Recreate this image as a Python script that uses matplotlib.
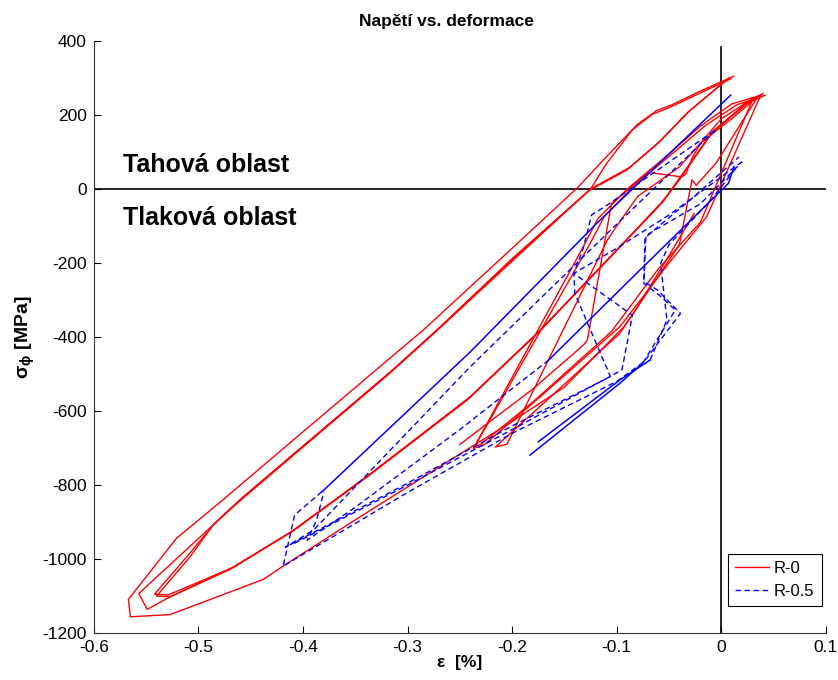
import numpy as np
import matplotlib
matplotlib.use('Agg')
import matplotlib.pyplot as plt

plt.rcParams['font.family'] = ['Liberation Sans', 'DejaVu Sans']
plt.rcParams['axes.unicode_minus'] = False
plt.rcParams['mathtext.fontset'] = 'custom'
plt.rcParams['mathtext.rm'] = 'Liberation Sans'
plt.rcParams['mathtext.it'] = 'Liberation Sans:italic'
plt.rcParams['mathtext.bf'] = 'Liberation Sans:bold'

# ---- R-0 (red) branches: strain [%], stress [MPa] ----
r1_x = [0.012, -0.02, -0.047, -0.062, -0.08, -0.112, -0.137, -0.2, -0.285, -0.316, -0.4, -0.477,
        -0.521, -0.567, -0.565, -0.527, -0.438, -0.419, -0.35, -0.259, -0.2, -0.15, -0.093, -0.084,
        -0.05, -0.026]
r1_y = [305, 265, 228, 212, 175, 81, 5, -160, -381, -455, -656, -841,
        -944, -1109, -1156, -1150, -1055, -1019, -894, -732, -628, -535, -372, -336,
        -180, -66]

r2_x = [0.009, -0.022, -0.05, -0.066, -0.085, -0.11, -0.125, -0.2, -0.272, -0.316, -0.415, -0.46,
        -0.486, -0.557, -0.549, -0.527, -0.466, -0.409, -0.335, -0.24, -0.173, -0.097, -0.055,
        -0.039, -0.007, 0.025, 0.04]
r2_y = [298, 257, 220, 202, 160, 68, 0, -190, -381, -494, -732, -841,
        -908, -1093, -1136, -1102, -1021, -922, -768, -561, -381, -156, -30,
        33, 159, 232, 258]

r3_x = [0.004, -0.033, -0.06, -0.09, -0.127, -0.2, -0.274, -0.318, -0.417, -0.462, -0.486, -0.508,
        -0.540, -0.527, -0.47, -0.412, -0.338, -0.243, -0.176, -0.1, -0.058, -0.04, -0.01, 0.022,
        0.038]
r3_y = [292, 205, 125, 52, -5, -195, -388, -500, -738, -846, -908, -994,
        -1100, -1102, -1028, -928, -776, -570, -390, -165, -40, 25, 150, 228,
        256]

r4_x = [0.007, -0.03, -0.058, -0.088, -0.124, -0.2, -0.27, -0.314, -0.414, -0.459, -0.484, -0.51,
        -0.542, -0.529, -0.468, -0.41, -0.336, -0.241, -0.174, -0.098, -0.056, -0.04, -0.008,
        0.024, 0.042]
r4_y = [300, 212, 131, 58, 2, -188, -376, -488, -728, -836, -902, -990,
        -1095, -1097, -1024, -925, -772, -565, -385, -160, -35, 28, 155, 230,
        254]

r5_x = [0.038, -0.014, -0.05, -0.097, -0.173, -0.227, -0.237, -0.132, -0.118, -0.09, -0.05,
        -0.02, 0.01, 0.036]
r5_y = [255, -75, -200, -372, -561, -692, -701, -156, -80, 0, 95,
        170, 230, 252]

r6_x = [0.035, 0.015, -0.005, -0.024, -0.028, -0.04, -0.097, -0.163, -0.216, -0.205, -0.109,
        -0.1, -0.08, -0.04, -0.02, 0.01, 0.035]
r6_y = [250, 160, 70, 10, 25, -150, -390, -561, -697, -690, -138,
        -100, -20, 60, 124, 190, 250]

r7_x = [-0.25, -0.18, -0.132, -0.128, -0.105, -0.07, -0.038, -0.034, -0.028, -0.02, 0.0, 0.03]
r7_y = [-690, -540, -422, -408, -39, 45, 33, 40, 83, 124, 190, 245]

r8_x = [0.03, -0.02, -0.06, -0.105, -0.18, -0.23, -0.236, -0.126, -0.112, -0.085, -0.045,
        -0.015, 0.015, 0.03]
r8_y = [242, -90, -215, -385, -575, -690, -697, -150, -75, 5, 100,
        172, 228, 242]

# ---- R-0.5 (blue) branches ----
b1_x = [0.009, -0.05, -0.12, -0.24, -0.375, -0.382]
b1_y = [254, 95, -95, -440, -800, -818]
b1d_x = [-0.382, -0.408, -0.419, -0.3, -0.2, -0.1, -0.074, -0.039, -0.061, -0.074, -0.073,
         -0.066, -0.03, 0.017]
b1d_y = [-818, -881, -1019, -820, -660, -520, -467, -336, -273, -250, -133,
         -115, -30, 87]

b2_x = [-0.006, -0.1, -0.24, -0.39, -0.417, -0.3, -0.2, -0.106, -0.140, -0.141, -0.132, -0.124,
        -0.11, -0.006]
b2_y = [159, -95, -480, -922, -968, -795, -640, -507, -282, -228, -160, -70,
        -45, 159]

b3_x = [0.012, 0.007, -0.08, -0.165]
b3_y = [60, 16, -225, -462]
b3d_x = [-0.165, -0.25, -0.35, -0.396, -0.387, -0.38]
b3d_y = [-462, -650, -860, -949, -895, -818]

b4_x = [-0.183, -0.097, -0.075]
b4_y = [-719, -525, -470]
b4d_x = [-0.075, -0.044, -0.058, -0.074, -0.072, -0.02, 0.02]
b4d_y = [-470, -327, -290, -255, -125, -40, 74]

b5_x = [-0.175, -0.097, -0.068]
b5_y = [-683, -516, -462]
b5d_x = [-0.068, -0.052, -0.058, -0.05, -0.01, 0.015]
b5d_y = [-462, -354, -201, -150, -30, 60]

b6d_x = [0.02, -0.05, -0.1, -0.141, -0.085, -0.095, -0.2, -0.3, -0.41]
b6d_y = [74, -70, -160, -228, -341, -489, -650, -800, -960]

red_x = [r1_x, r2_x, r3_x, r4_x, r5_x, r6_x, r7_x, r8_x]
red_y = [r1_y, r2_y, r3_y, r4_y, r5_y, r6_y, r7_y, r8_y]
blue_solid_x = [b1_x, b3_x, b4_x, b5_x]
blue_solid_y = [b1_y, b3_y, b4_y, b5_y]
blue_dash_x = [b1d_x, b2_x, b3d_x, b4d_x, b5d_x, b6d_x]
blue_dash_y = [b1d_y, b2_y, b3d_y, b4d_y, b5d_y, b6d_y]

fig = plt.figure(figsize=(8.38, 6.8), dpi=100)
ax = fig.add_axes([0.112, 0.069, 0.8735, 0.8706])

dash = (0, (4, 2.5))
for i, (x, y) in enumerate(zip(red_x, red_y)):
    ax.plot(x, y, color='#ff0000', lw=1.0, label='R-0' if i == 0 else None, zorder=3)
for i, (x, y) in enumerate(zip(blue_dash_x, blue_dash_y)):
    ax.plot(x, y, color='#0000ff', lw=1.0, ls=dash, label='R-0.5' if i == 0 else None, zorder=3)
for x, y in zip(blue_solid_x, blue_solid_y):
    ax.plot(x, y, color='#0000ff', lw=1.1, zorder=3)

# zero axes
ax.axhline(0, color='black', lw=1.2, zorder=2)
ax.plot([0, 0], [-1200, 384], color='black', lw=1.2, zorder=2)

ax.text(-0.572, 65, 'Tahová oblast', fontsize=18, fontweight='bold', va='center', ha='left')
ax.text(-0.572, -78, 'Tlaková oblast', fontsize=18, fontweight='bold', va='center', ha='left')

ax.set_xlim(-0.6, 0.1)
ax.set_ylim(-1200, 400)
ax.set_xticks(np.arange(-0.6, 0.11, 0.1))
ax.set_xticklabels(['-0.6', '-0.5', '-0.4', '-0.3', '-0.2', '-0.1', '0', '0.1'])
ax.set_yticks(np.arange(-1200, 401, 200))
ax.tick_params(direction='in', length=5, labelsize=12.5, pad=5)
for s in ['top', 'right']:
    ax.spines[s].set_visible(False)
for s in ['left', 'bottom']:
    ax.spines[s].set_color('#333333')

ax.set_title('Napětí vs. deformace', fontsize=12.5, fontweight='bold', pad=11, x=0.481)
ax.set_xlabel('ε  [%]', fontsize=12.5, fontweight='bold', labelpad=0)
ax.set_ylabel(r'σ$_{\mathbf{\phi}}$ [MPa]', fontsize=14, fontweight='bold', labelpad=4)

leg = ax.legend(loc='lower right', fontsize=12, frameon=True, fancybox=False,
                edgecolor='black', framealpha=1, handlelength=2.0, borderpad=0.45,
                labelspacing=0.45, handletextpad=0.3, borderaxespad=0,
                bbox_to_anchor=(0.9945, 0.0456))
leg.get_frame().set_linewidth(0.8)
leg.set_zorder(5)

fig.savefig('out.png', dpi=100)
